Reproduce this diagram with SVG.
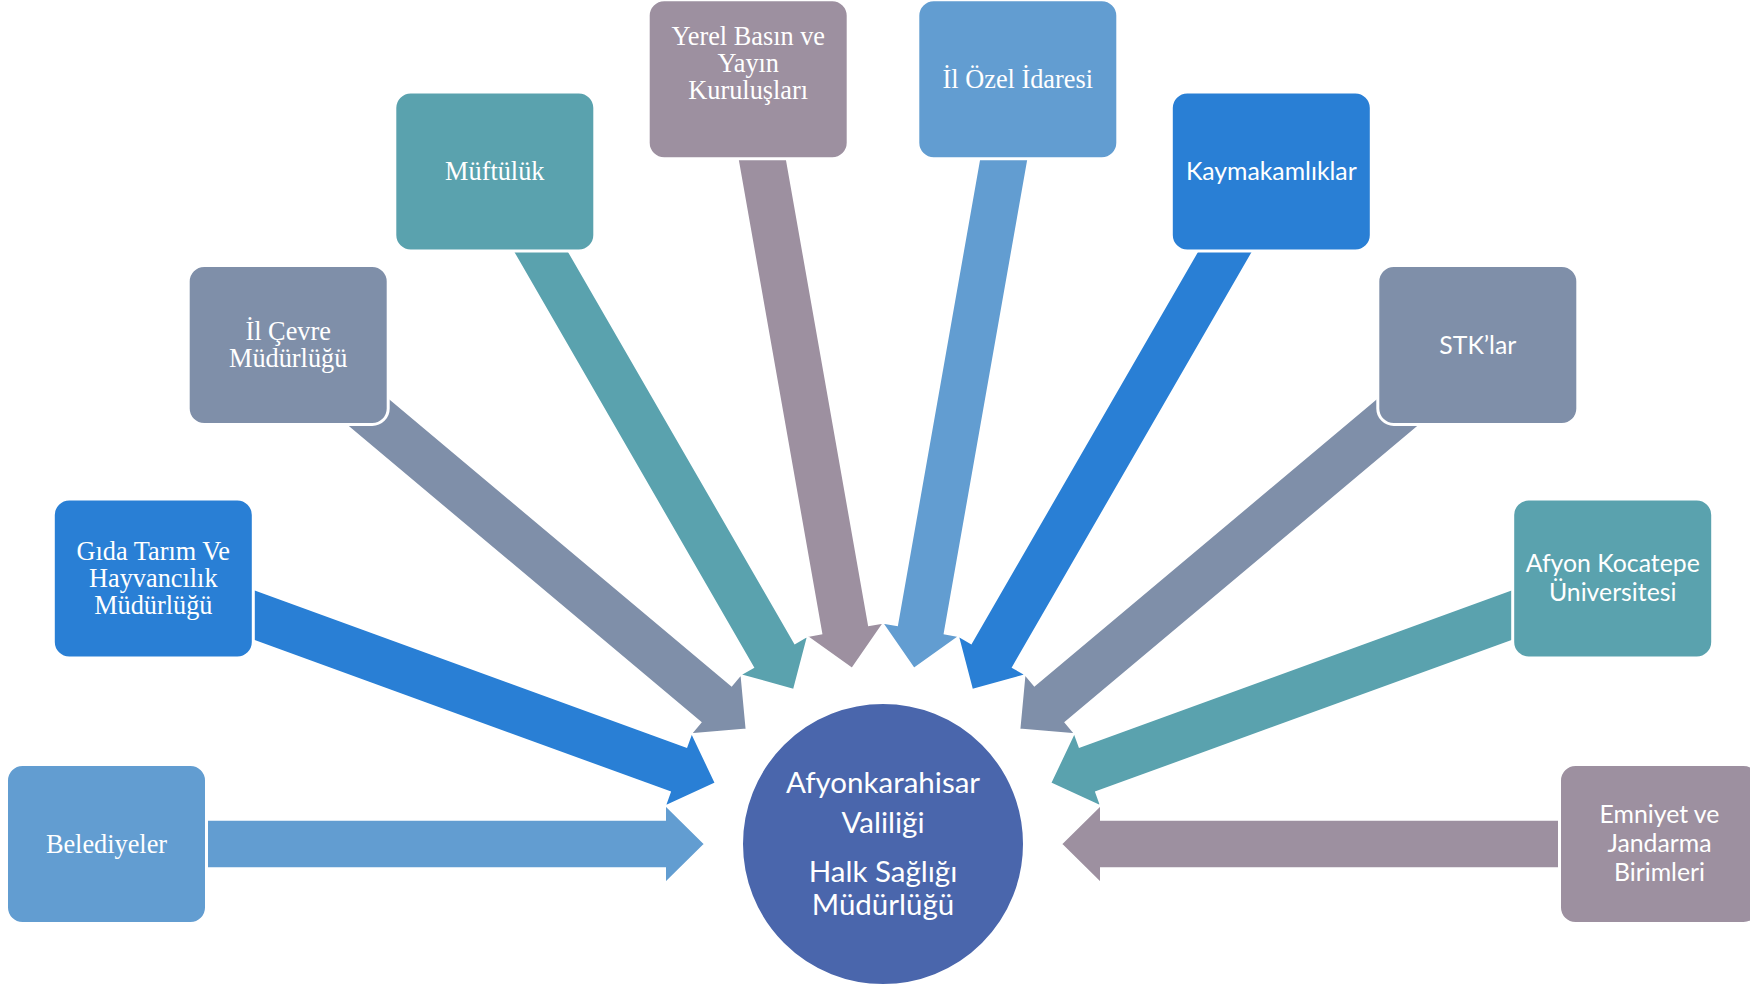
<svg xmlns="http://www.w3.org/2000/svg" width="1750" height="988" viewBox="0 0 1750 988">
<style>
  .a2{fill:#629DD1}.a3{fill:#297FD5}.a4{fill:#7F8FA9}.a5{fill:#5AA2AE}.a6{fill:#9D90A0}
  .arrow{stroke:#FFFFFF;stroke-width:2;stroke-linejoin:miter}
  .box{stroke:#FFFFFF;stroke-width:3}
  .serif{font-family:"Liberation Serif","Times New Roman",serif;font-size:26.3px;fill:#FFFFFF;text-anchor:middle}
  .sans{font-family:Lato,"Noto Sans",sans-serif;font-size:24.8px;fill:#FFFFFF;text-anchor:middle}
  .center{font-family:Lato,"Noto Sans",sans-serif;font-size:29.5px;fill:#FFFFFF;text-anchor:middle}
</style>
<defs>
  <path id="arr" d="M -740 -24.2 H -218 V -39.5 L -178 0 L -218 39.5 V 24.2 H -740 Z"/>
</defs>
<rect width="1750" height="988" fill="#FFFFFF"/>
<g id="connectors" transform="translate(883 844)">
  <use href="#arr" class="arrow a2" transform="rotate(0)"/>
  <use href="#arr" class="arrow a3" transform="rotate(20)"/>
  <use href="#arr" class="arrow a4" transform="rotate(40)"/>
  <use href="#arr" class="arrow a5" transform="rotate(60)"/>
  <use href="#arr" class="arrow a6" transform="rotate(80)"/>
  <use href="#arr" class="arrow a2" transform="rotate(100)"/>
  <use href="#arr" class="arrow a3" transform="rotate(120)"/>
  <use href="#arr" class="arrow a4" transform="rotate(140)"/>
  <use href="#arr" class="arrow a5" transform="rotate(160)"/>
  <use href="#arr" class="arrow a6" transform="rotate(180)"/>
</g>
<g id="center">
  <circle cx="883" cy="844" r="141" fill="#4A66AC" stroke="#FFFFFF" stroke-width="2"/>
  <text class="center" x="883" y="793.3">Afyonkarahisar</text>
  <text class="center" x="883" y="832.7">Valiliği</text>
  <text class="center" x="883" y="881.7">Halk Sağlığı</text>
  <text class="center" x="883" y="915">Müdürlüğü</text>
</g>
<g id="belediyeler">
  <rect class="box a2" x="6.5" y="764.5" width="200" height="159" rx="16"/>
  <text class="serif" x="106.5" y="852.7">Belediyeler</text>
</g>
<g id="gida">
  <rect class="box a3" x="53.3" y="498.9" width="200" height="159" rx="16"/>
  <text class="serif" x="153.3" y="559.8">Gıda Tarım Ve</text>
  <text class="serif" x="153.3" y="587.1">Hayvancılık</text>
  <text class="serif" x="153.3" y="614.4">Müdürlüğü</text>
</g>
<g id="cevre">
  <rect class="box a4" x="188.2" y="265.4" width="200" height="159" rx="16"/>
  <text class="serif" x="288.2" y="340">İl Çevre</text>
  <text class="serif" x="288.2" y="367.3">Müdürlüğü</text>
</g>
<g id="muftuluk">
  <rect class="box a5" x="394.8" y="92" width="200" height="159" rx="16"/>
  <text class="serif" x="494.8" y="180.2">Müftülük</text>
</g>
<g id="yerel-basin">
  <rect class="box a6" x="648.2" y="-0.2" width="200" height="159" rx="16"/>
  <text class="serif" x="748.2" y="45">Yerel Basın ve</text>
  <text class="serif" x="748.2" y="71.8">Yayın</text>
  <text class="serif" x="748.2" y="98.5">Kuruluşları</text>
</g>
<g id="il-ozel">
  <rect class="box a2" x="917.8" y="-0.2" width="200" height="159" rx="16"/>
  <text class="serif" x="1017.8" y="88">İl Özel İdaresi</text>
</g>
<g id="kaymakamliklar">
  <rect class="box a3" x="1171.3" y="92" width="200" height="159" rx="16"/>
  <text class="sans" x="1271.3" y="180">Kaymakamlıklar</text>
</g>
<g id="stk">
  <rect class="box a4" x="1377.8" y="265.4" width="200" height="159" rx="16"/>
  <text class="sans" x="1477.8" y="353.5">STK’lar</text>
</g>
<g id="afyon-kocatepe">
  <rect class="box a5" x="1512.7" y="498.9" width="200" height="159" rx="16"/>
  <text class="sans" x="1612.7" y="571.5">Afyon Kocatepe</text>
  <text class="sans" x="1612.7" y="600.5">Üniversitesi</text>
</g>
<g id="emniyet">
  <rect class="box a6" x="1559.5" y="764.5" width="200" height="159" rx="16"/>
  <text class="sans" x="1659.5" y="823.3">Emniyet ve</text>
  <text class="sans" x="1659.5" y="852.3">Jandarma</text>
  <text class="sans" x="1659.5" y="881.3">Birimleri</text>
</g>
</svg>
